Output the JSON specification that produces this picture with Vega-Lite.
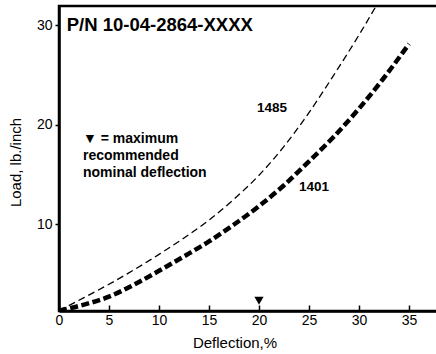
{
  "$schema": "https://vega.github.io/schema/vega-lite/v6.json",
  "width": 380,
  "height": 305,
  "autosize": {"type": "none"},
  "padding": {"left": 59, "top": 6, "right": 0, "bottom": 43},
  "background": "white",
  "config": {"view": {"stroke": "black", "strokeWidth": 2.5}, "font": "Liberation Sans"},
  "datasets": {
    "curves": [
      {"series": "1485", "x": 0, "y": 1.3},
      {"series": "1485", "x": 2.5, "y": 2.6},
      {"series": "1485", "x": 5, "y": 3.95},
      {"series": "1485", "x": 7.5, "y": 5.4},
      {"series": "1485", "x": 10, "y": 6.95},
      {"series": "1485", "x": 12.5, "y": 8.6},
      {"series": "1485", "x": 15, "y": 10.4},
      {"series": "1485", "x": 17.5, "y": 12.5},
      {"series": "1485", "x": 20, "y": 14.9},
      {"series": "1485", "x": 22.5, "y": 17.8},
      {"series": "1485", "x": 25, "y": 21.2},
      {"series": "1485", "x": 27.5, "y": 25.0},
      {"series": "1485", "x": 30, "y": 29.0},
      {"series": "1485", "x": 32.5, "y": 33.3},
      {"series": "1401", "x": 0, "y": 1.3},
      {"series": "1401", "x": 2.5, "y": 1.9},
      {"series": "1401", "x": 5, "y": 2.7},
      {"series": "1401", "x": 7.5, "y": 3.9},
      {"series": "1401", "x": 10, "y": 5.3},
      {"series": "1401", "x": 12.5, "y": 6.75},
      {"series": "1401", "x": 15, "y": 8.25},
      {"series": "1401", "x": 17.5, "y": 9.95},
      {"series": "1401", "x": 20, "y": 11.8},
      {"series": "1401", "x": 22.5, "y": 13.9},
      {"series": "1401", "x": 25, "y": 16.3},
      {"series": "1401", "x": 27.5, "y": 18.8},
      {"series": "1401", "x": 30, "y": 21.6},
      {"series": "1401", "x": 32.5, "y": 24.7},
      {"series": "1401", "x": 35, "y": 28.1}
    ],
    "marker": [{"x": 20, "y": 2.3}],
    "one": [{}]
  },
  "layer": [
    {
      "data": {"name": "curves"},
      "transform": [{"filter": "datum.series === '1485'"}],
      "mark": {"type": "line", "color": "black", "strokeWidth": 1.3, "strokeDash": [7, 4], "interpolate": "monotone", "clip": true},
      "encoding": {
        "x": {
          "field": "x", "type": "quantitative",
          "scale": {"domain": [0, 38.0], "nice": false, "zero": false},
          "axis": {
            "orient": "bottom", "values": [0, 5, 10, 15, 20, 25, 30, 35],
            "grid": false, "domainColor": "black", "domainWidth": 2.5,
            "tickColor": "black", "tickWidth": 1.5, "tickSize": -6, "labelPadding": 8,
            "labelFont": "Liberation Sans", "labelFontSize": 14, "labelColor": "black", "labelFlush": false,
            "title": "Deflection,%", "titleFont": "Liberation Sans", "titleFontSize": 15,
            "titleFontWeight": "normal", "titleColor": "black", "titleX": 175.5, "titleY": 36,
            "titleAlign": "center", "titleBaseline": "alphabetic"
          }
        },
        "y": {
          "field": "y", "type": "quantitative",
          "scale": {"domain": [1.26, 31.91], "nice": false, "zero": false},
          "axis": {
            "values": [10, 20, 30], "grid": false, "domainColor": "black", "domainWidth": 2.5,
            "tickColor": "black", "tickWidth": 1.5, "tickSize": 4, "labelPadding": 3,
            "labelFont": "Liberation Sans", "labelFontSize": 14, "labelColor": "black",
            "title": "Load, lb./inch", "titleFont": "Liberation Sans", "titleFontSize": 15,
            "titleFontWeight": "normal", "titleColor": "black", "titleAngle": -90, "titleX": -39, "titleY": 156,
            "titleAlign": "center", "titleBaseline": "alphabetic"
          }
        }
      }
    },
    {
      "data": {"name": "curves"},
      "transform": [{"filter": "datum.series === '1401'"}],
      "mark": {"type": "line", "color": "black", "strokeWidth": 4.5, "strokeDash": [8, 3.5], "interpolate": "monotone", "clip": true},
      "encoding": {
        "x": {"field": "x", "type": "quantitative"},
        "y": {"field": "y", "type": "quantitative"}
      }
    },
    {
      "data": {"name": "marker"},
      "mark": {"type": "point", "shape": "triangle-down", "filled": true, "color": "black", "opacity": 1, "size": 85},
      "encoding": {
        "x": {"field": "x", "type": "quantitative"},
        "y": {"field": "y", "type": "quantitative"}
      }
    },
    {
      "data": {"name": "one"},
      "mark": {"type": "text", "text": "P/N 10-04-2864-XXXX", "fontWeight": "bold", "fontSize": 18.5, "align": "left", "baseline": "middle", "color": "black"},
      "encoding": {"x": {"datum": 0.77, "type": "quantitative"}, "y": {"datum": 30.0, "type": "quantitative"}}
    },
    {
      "data": {"name": "one"},
      "mark": {"type": "text", "text": "1485", "fontWeight": "bold", "fontSize": 13.5, "align": "center", "baseline": "middle", "color": "black"},
      "encoding": {"x": {"datum": 21.3, "type": "quantitative"}, "y": {"datum": 21.66, "type": "quantitative"}}
    },
    {
      "data": {"name": "one"},
      "mark": {"type": "text", "text": "1401", "fontWeight": "bold", "fontSize": 13.5, "align": "center", "baseline": "middle", "color": "black"},
      "encoding": {"x": {"datum": 25.5, "type": "quantitative"}, "y": {"datum": 13.7, "type": "quantitative"}}
    },
    {
      "data": {"name": "one"},
      "mark": {"type": "text", "text": ["▼ = maximum", "recommended", "nominal deflection"], "fontWeight": "bold", "fontSize": 14, "lineHeight": 17, "align": "left", "baseline": "middle", "color": "black"},
      "encoding": {"x": {"datum": 2.4, "type": "quantitative"}, "y": {"datum": 18.54, "type": "quantitative"}}
    }
  ]
}
